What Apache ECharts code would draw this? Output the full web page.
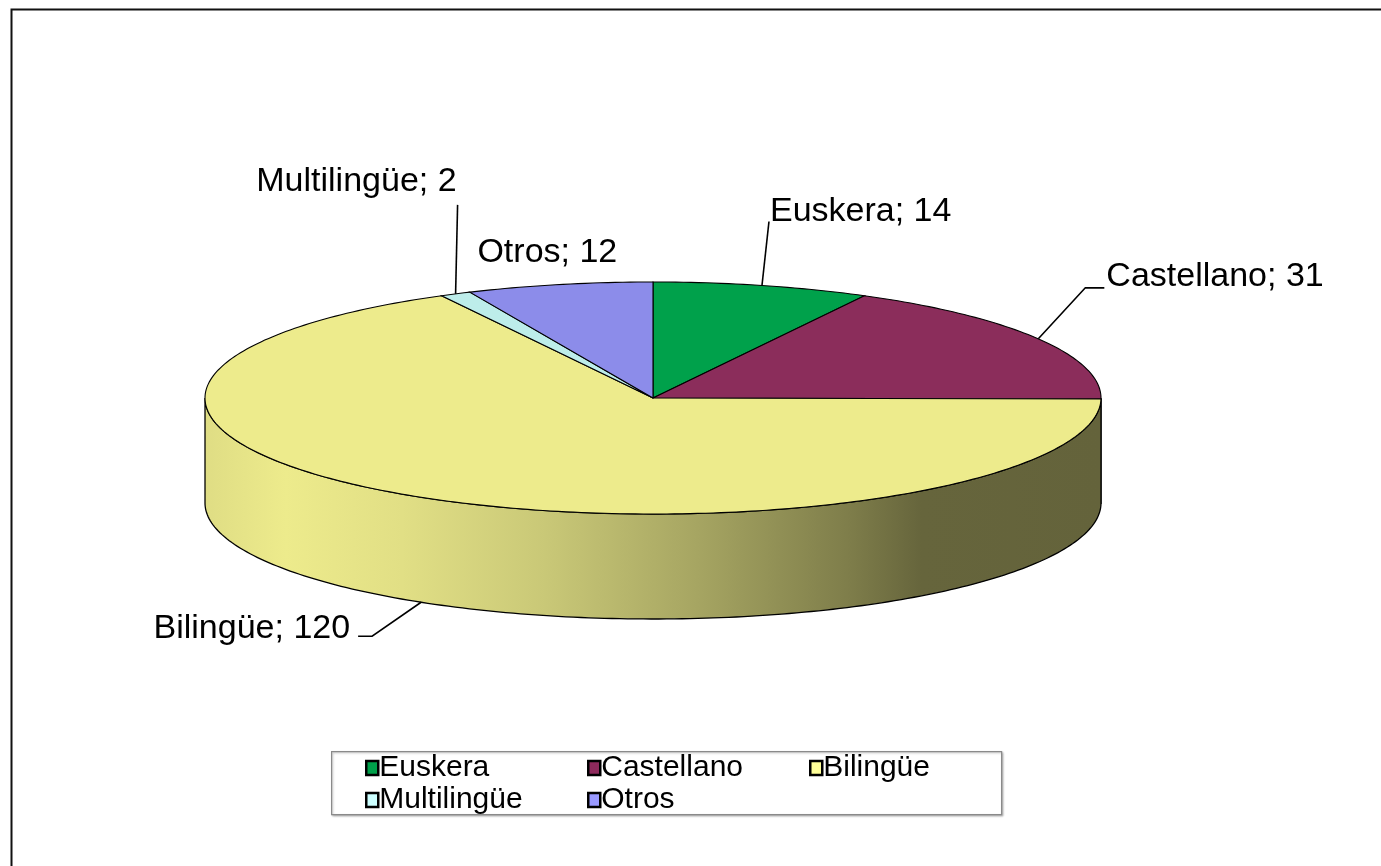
<!DOCTYPE html>
<html><head><meta charset="utf-8">
<script src="https://cdn.jsdelivr.net/npm/echarts@6/dist/echarts.min.js"></script>
<style>html,body{margin:0;padding:0;background:#fff}#c{width:1381px;height:866px}</style>
</head><body><div id="c"></div>
<script>
const categories = ['Euskera', 'Castellano', 'Bilingüe', 'Multilingüe', 'Otros'];
const values = [14, 31, 120, 2, 12];
const topColors = ['#00A14B', '#8B2D5B', '#EDEB8C', '#BDEDEA', '#8C8CEA'];
const legendColors = ['#00A04A', '#8E2A5C', '#FFFF99', '#CCFFFF', '#9999FF'];

const FONT = '"Liberation Sans", Arial, sans-serif';
const PIE = { cx: 653, cy: 398, rx: 448, ry: 116, depth: 105 };
// side shading: [offset, brightness factor]
const SIDE_SHADE = [[0, 0.94], [0.09, 1.0], [0.22, 0.95], [0.38, 0.85], [0.55, 0.70], [0.72, 0.53], [0.8, 0.43], [1, 0.42]];
// label placement relative to each slice's anchor point on the rim
const LABEL = {
  'Euskera':     { line: [[7, -64]],            text: [8, -74],   align: 'left' },
  'Castellano':  { line: [[47, -51], [66, -51]], text: [68, -62],  align: 'left' },
  'Bilingüe':    { line: [[-49, 34], [-63, 34]], text: [-71, 26],  align: 'right' },
  'Multilingüe': { line: [[2, -89]],            text: [1, -112],  align: 'right' },
  'Otros':       { line: [],                    text: [-12, -32], align: 'center' }
};

function shade(hex, f) {
  const n = parseInt(hex.slice(1), 16);
  const r = Math.round(((n >> 16) & 255) * f), g = Math.round(((n >> 8) & 255) * f), b = Math.round((n & 255) * f);
  return 'rgb(' + r + ',' + g + ',' + b + ')';
}
function pt(deg, dy) {
  const t = deg * Math.PI / 180;
  return [PIE.cx + PIE.rx * Math.sin(t), PIE.cy - PIE.ry * Math.cos(t) + dy];
}
function arc(a0, a1, dy) {
  const pts = [];
  const n = Math.max(2, Math.ceil((a1 - a0) / 1));
  for (let k = 0; k <= n; k++) pts.push(pt(a0 + (a1 - a0) * k / n, dy));
  return pts;
}

function makeRender(i) {
  return function (params, api) {
    const total = values.reduce((a, b) => a + b, 0);
    let acc = 0;
    for (let k = 0; k < i; k++) acc += values[k];
    const v = api.value(0);
    const a0 = acc / total * 360, a1 = (acc + v) / total * 360;
    const children = [];
    const s0 = Math.max(a0, 90), s1 = Math.min(a1, 270);
    if (s1 > s0) {
      const pts = arc(s0, s1, 0).concat(arc(s0, s1, PIE.depth).reverse());
      children.push({
        type: 'polygon', shape: { points: pts },
        style: {
          fill: new echarts.graphic.LinearGradient(PIE.cx - PIE.rx, 0, PIE.cx + PIE.rx, 0,
            SIDE_SHADE.map(s => ({ offset: s[0], color: shade(topColors[i], s[1]) })), true),
          stroke: '#000', lineWidth: 1.3
        }
      });
    }
    const tp = [[PIE.cx, PIE.cy]].concat(arc(a0, a1, 0));
    children.push({ type: 'polygon', shape: { points: tp }, style: { fill: topColors[i], stroke: '#000', lineWidth: 1.1 } });

    const mid = (a0 + a1) / 2;
    const anchor = pt(mid, (mid > 90 && mid < 270) ? PIE.depth : 0);
    const L = LABEL[categories[i]];
    if (L.line.length) {
      const lp = [anchor].concat(L.line.map(o => [anchor[0] + o[0], anchor[1] + o[1]]));
      children.push({ type: 'polyline', shape: { points: lp }, style: { stroke: '#000', lineWidth: 1.6, fill: null } });
    }
    children.push({
      type: 'text', x: anchor[0] + L.text[0], y: anchor[1] + L.text[1],
      style: { text: categories[i] + '; ' + v, fill: '#000', fontSize: 34, fontFamily: FONT, align: L.align, verticalAlign: 'middle' }
    });
    return { type: 'group', children: children };
  };
}

const chart = echarts.init(document.getElementById('c'), null, { renderer: 'canvas' });
const legendBase = {
  orient: 'vertical', top: 753, padding: 0, itemWidth: 12, itemHeight: 14, itemGap: 2,
  selectedMode: false, icon: 'rect',
  itemStyle: { borderColor: '#000', borderWidth: 2.5 },
  textStyle: { fontSize: 30, lineHeight: 29, fontFamily: FONT, color: '#000', padding: [0, 0, 0, -4] }
};
function legendItem(i) { return { name: categories[i], itemStyle: { color: legendColors[i] } }; }
chart.setOption({
  animation: false,
  color: legendColors,
  graphic: [
    { type: 'rect', left: 9, top: 7, shape: { width: 1400, height: 900 }, style: { fill: 'none', stroke: '#111', lineWidth: 2 }, silent: true },
    { type: 'rect', left: 331, top: 751, shape: { width: 670, height: 63 }, style: { fill: '#fff', stroke: '#8a8a8a', lineWidth: 1.2, shadowBlur: 2, shadowOffsetX: 1, shadowOffsetY: 1, shadowColor: 'rgba(0,0,0,0.25)' }, silent: true, z: -1 }
  ],
  legend: [
    Object.assign({}, legendBase, { left: 365, data: [legendItem(0), legendItem(3)] }),
    Object.assign({}, legendBase, { left: 587, data: [legendItem(1), legendItem(4)] }),
    Object.assign({}, legendBase, { left: 809, data: [legendItem(2)] })
  ],
  series: categories.map((name, i) => ({
    type: 'custom', name: name, coordinateSystem: 'none', silent: true,
    itemStyle: { color: legendColors[i] },
    data: [values[i]], renderItem: makeRender(i)
  }))
});
</script></body></html>
